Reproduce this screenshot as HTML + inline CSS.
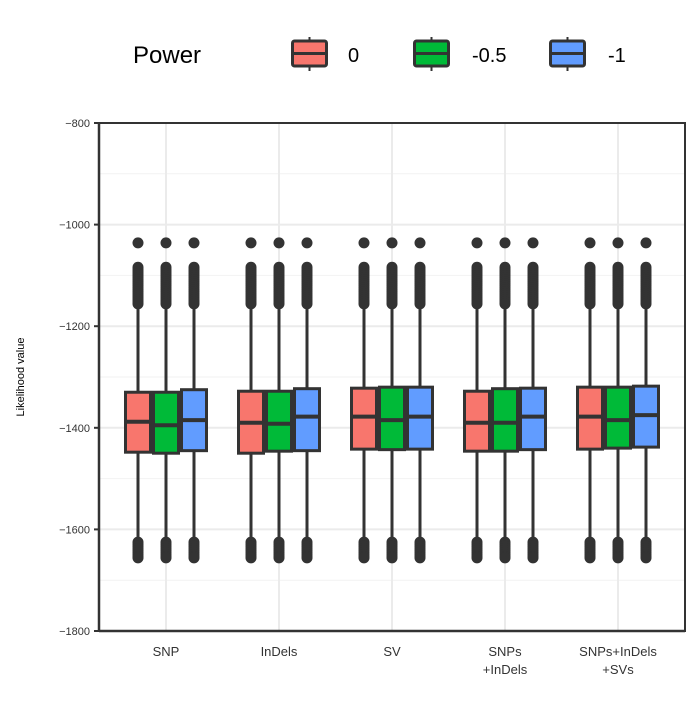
<!DOCTYPE html>
<html><head><meta charset="utf-8"><style>
body{margin:0;background:#fff;}
svg text{font-family:"Liberation Sans",sans-serif;}
</style></head><body>
<svg id="chart" width="700" height="700" xmlns="http://www.w3.org/2000/svg">
<rect width="700" height="700" fill="#fff"/>
<g id="grid"></g><g id="boxes"></g><g id="axes"></g>
<g id="legend">
<text x="133" y="63" font-size="24" fill="#000">Power</text>
</g>
<text transform="translate(24,377) rotate(-90)" text-anchor="middle" font-size="11" fill="#000">Likelihood value</text>
</svg>
<script>
const categories=[["SNP"],["InDels"],["SV"],["SNPs","+InDels"],["SNPs+InDels","+SVs"]];
const seriesNames=["0","-0.5","-1"];
const colors=["#F8766D","#00BA38","#619CFF"];
const q3=[[-1330,-1330,-1325],[-1328,-1328,-1323],[-1322,-1320,-1320],[-1328,-1323,-1322],[-1320,-1320,-1318]];
const med=[[-1388,-1395,-1385],[-1390,-1392,-1378],[-1378,-1385,-1378],[-1390,-1390,-1378],[-1378,-1385,-1375]];
const q1=[[-1448,-1450,-1445],[-1450,-1446,-1445],[-1442,-1443,-1442],[-1446,-1446,-1443],[-1442,-1440,-1438]];
const whiskerHi=[[-1160,-1160,-1155],[-1160,-1160,-1155],[-1160,-1160,-1155],[-1160,-1160,-1155],[-1160,-1160,-1155]];
const whiskerLo=[[-1620,-1620,-1620],[-1620,-1620,-1620],[-1620,-1620,-1620],[-1620,-1620,-1620],[-1620,-1620,-1620]];
const outliersHi=[-1036,-1084,-1088,-1092,-1096,-1100,-1104,-1108,-1112,-1116,-1120,-1124,-1128,-1132,-1136,-1140,-1144,-1148,-1152,-1156];
const outliersLo=[-1625,-1629,-1633,-1637,-1641,-1645,-1649,-1653,-1656];
const yTicks=[-800,-1000,-1200,-1400,-1600,-1800];
const yMinor=[-900,-1100,-1300,-1500,-1700];

const NS="http://www.w3.org/2000/svg";
const L=99,R=685,T=123,B=631;
function y(v){return T+(-800-v)/1000*(B-T);}
function xc(i){return 166+i*113;}
function mk(tag,attrs,parent){const e=document.createElementNS(NS,tag);for(const k in attrs)e.setAttribute(k,attrs[k]);parent.appendChild(e);return e;}
const grid=document.getElementById('grid'),boxes=document.getElementById('boxes'),axes=document.getElementById('axes'),legend=document.getElementById('legend');
mk('rect',{x:L,y:T,width:R-L,height:B-T,fill:'#fff'},grid);
yMinor.forEach(v=>{const e=mk('line',{x1:L,x2:R,y1:y(v),y2:y(v),stroke:'#f2f2f2','stroke-width':1},grid);

});
yTicks.forEach(v=>{const e=mk('line',{x1:L,x2:R,y1:y(v),y2:y(v),stroke:'#ebebeb','stroke-width':2},grid);

});
categories.forEach((c,i)=>{const e=mk('line',{x1:xc(i),x2:xc(i),y1:T,y2:B,stroke:'#ebebeb','stroke-width':2},grid);

});
const bw=28;
categories.forEach((c,i)=>{seriesNames.forEach((s,j)=>{
 const cx=xc(i)+(j-1)*bw;
 const g=mk('g',{},boxes);
 
 
 mk('line',{x1:cx,x2:cx,y1:y(whiskerHi[i][j]),y2:y(whiskerLo[i][j]),stroke:'#333','stroke-width':3},g);
 outliersHi.concat(outliersLo).forEach(v=>{const d=mk('circle',{cx:cx,cy:y(v),r:5.5,fill:'#333'},g);
 
 });
 mk('rect',{x:cx-bw/2+1.5,y:y(q3[i][j]),width:bw-3,height:y(q1[i][j])-y(q3[i][j]),fill:colors[j],stroke:'#333','stroke-width':3},g);
 mk('line',{x1:cx-bw/2+1.5,x2:cx+bw/2-1.5,y1:y(med[i][j]),y2:y(med[i][j]),stroke:'#333','stroke-width':4},g);
});
 c.forEach((t,k)=>{const e=mk('text',{x:xc(i),y:656+k*18,'text-anchor':'middle','font-size':13,fill:'#333'},axes);e.textContent=t;
 
 });
});
mk('rect',{x:L,y:T,width:R-L,height:B-T,fill:'none',stroke:'#333','stroke-width':2},axes);
mk('line',{x1:L,x2:L,y1:T,y2:B,stroke:'#333','stroke-width':2.5},axes);
mk('line',{x1:L,x2:R,y1:B,y2:B,stroke:'#333','stroke-width':2.5},axes);
yTicks.forEach(v=>{mk('line',{x1:L-5,x2:L,y1:y(v),y2:y(v),stroke:'#333','stroke-width':2},axes);
 const e=mk('text',{x:L-9,y:y(v)+4,'text-anchor':'end','font-size':11,fill:'#333'},axes);e.textContent=String(v).replace('-','\u2212');
 
 });
const lx=[291,413,549],tx=[348,472,608];
seriesNames.forEach((s,j)=>{const g=mk('g',{},legend);
 
 
 const cx=lx[j]+18.5;
 mk('line',{x1:cx,x2:cx,y1:37,y2:71,stroke:'#333','stroke-width':2},g);
 mk('rect',{x:lx[j]+1.5,y:41,width:34,height:25,fill:colors[j],stroke:'#333','stroke-width':3,rx:2},g);
 mk('line',{x1:lx[j]+1.5,x2:lx[j]+35.5,y1:53.5,y2:53.5,stroke:'#333','stroke-width':3},g);
 const t=mk('text',{x:tx[j],y:62,'font-size':20,fill:'#000'},g);t.textContent=s;});
</script>
</body></html>
